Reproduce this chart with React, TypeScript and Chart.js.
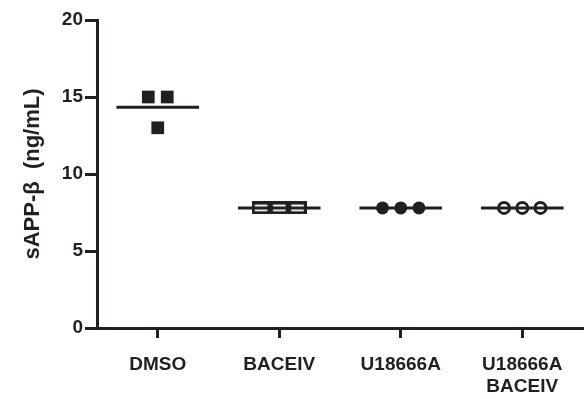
import React, { useEffect, useRef } from "react";
import { Chart, registerables } from "chart.js";

Chart.register(...registerables);

const categories: (string | string[])[] = ["DMSO", "BACEIV", "U18666A", ["U18666A", "BACEIV"]];
const dmsoValues = [15, 15, 13];
const baceivValues = [7.8, 7.8, 7.8];
const u18666aValues = [7.8, 7.8, 7.8];
const comboValues = [7.8, 7.8, 7.8];
const dmsoJitter = [-0.078, 0.078, 0];
const tripleJitter = [-0.15, 0, 0.15];
const yTicks = [0, 5, 10, 15, 20];
const yTitle = "sAPP-\u03B2  (ng/mL)";

const INK = "#231f20";
const FONT = "Arial, 'Liberation Sans', sans-serif";

function mean(a: number[]) {
  return a.reduce((s, v) => s + v, 0) / a.length;
}

function makeHollowRect(w: number, h: number, lw: number) {
  const c = document.createElement("canvas");
  c.width = w;
  c.height = h;
  const ctx = c.getContext("2d")!;
  ctx.fillStyle = "#ffffff";
  ctx.fillRect(0, 0, w, h);
  ctx.strokeStyle = INK;
  ctx.lineWidth = lw;
  ctx.strokeRect(lw / 2, lw / 2, w - lw, h - lw);
  return c;
}

export default function App() {
  const ref = useRef<HTMLCanvasElement>(null);

  useEffect(() => {
    if (!ref.current) return;
    const hollow = makeHollowRect(19, 13, 3.2);
    const groups = [
      { values: dmsoValues, jitter: dmsoJitter },
      { values: baceivValues, jitter: tripleJitter },
      { values: u18666aValues, jitter: tripleJitter },
      { values: comboValues, jitter: tripleJitter },
    ];
    const pointStyles: any[] = [
      { pointStyle: "rect", pointRadius: 9, backgroundColor: INK, borderColor: INK, borderWidth: 0 },
      { pointStyle: hollow, pointRadius: 9, backgroundColor: INK, borderColor: INK, borderWidth: 0 },
      { pointStyle: "circle", pointRadius: 6.5, backgroundColor: INK, borderColor: INK, borderWidth: 0 },
      { pointStyle: "circle", pointRadius: 5.5, backgroundColor: "#ffffff", borderColor: INK, borderWidth: 3 },
    ];
    const meanSets = groups.map((g, i) => ({
      data: [
        { x: i - 0.34, y: mean(g.values) },
        { x: i + 0.34, y: mean(g.values) },
      ],
      showLine: true,
      borderColor: INK,
      borderWidth: 3,
      pointRadius: 0,
      order: 0,
    }));
    const pointSets = groups.map((g, i) => ({
      data: g.values.map((v, k) => ({ x: i + g.jitter[k], y: v })),
      showLine: false,
      order: 1,
      ...pointStyles[i],
    }));

    const chart = new Chart(ref.current, {
      type: "scatter",
      data: { datasets: [...meanSets, ...pointSets] as any },
      options: {
        animation: false,
        responsive: false,
        devicePixelRatio: 1,
        layout: { autoPadding: false, padding: { top: 20, right: 1, left: 0, bottom: 0 } },
        plugins: { legend: { display: false }, tooltip: { enabled: false } },
        scales: {
          x: {
            type: "linear",
            min: -0.5,
            max: 3.5,
            afterFit: (s: any) => {
              s.height = 71;
              s.paddingLeft = 0;
              s.paddingRight = 0;
            },
            afterBuildTicks: (s: any) => {
              s.ticks = categories.map((_, i) => ({ value: i }));
            },
            ticks: {
              callback: (v: any) => categories[Number(v)] as any,
              color: INK,
              font: { family: FONT, size: 19, weight: "bold", lineHeight: 1.2 },
              padding: 15,
              maxRotation: 0,
              autoSkip: false,
            },
            grid: { drawOnChartArea: false, drawTicks: true, tickLength: 10, tickWidth: 3, tickColor: INK },
            border: { display: true, color: INK, width: 3 },
          },
          y: {
            type: "linear",
            min: 0,
            max: 20,
            afterFit: (s: any) => {
              s.width = 97;
              s.paddingTop = 0;
              s.paddingBottom = 0;
            },
            afterBuildTicks: (s: any) => {
              s.ticks = yTicks.map((v) => ({ value: v }));
            },
            ticks: {
              color: INK,
              font: { family: FONT, size: 19, weight: "bold" },
              padding: 2,
            },
            grid: { drawOnChartArea: false, drawTicks: true, tickLength: 12, tickWidth: 3, tickColor: INK },
            border: { display: true, color: INK, width: 3 },
            title: {
              display: true,
              text: yTitle,
              color: INK,
              font: { family: FONT, size: 22, weight: "bold" },
              padding: { top: 20, bottom: 0 },
            },
          },
        },
      },
    });
    return () => chart.destroy();
  }, []);

  return (
    <div style={{ position: "fixed", left: 0, top: 0, width: 584, height: 399, background: "#fff" }}>
      <canvas ref={ref} width={584} height={399} />
    </div>
  );
}
